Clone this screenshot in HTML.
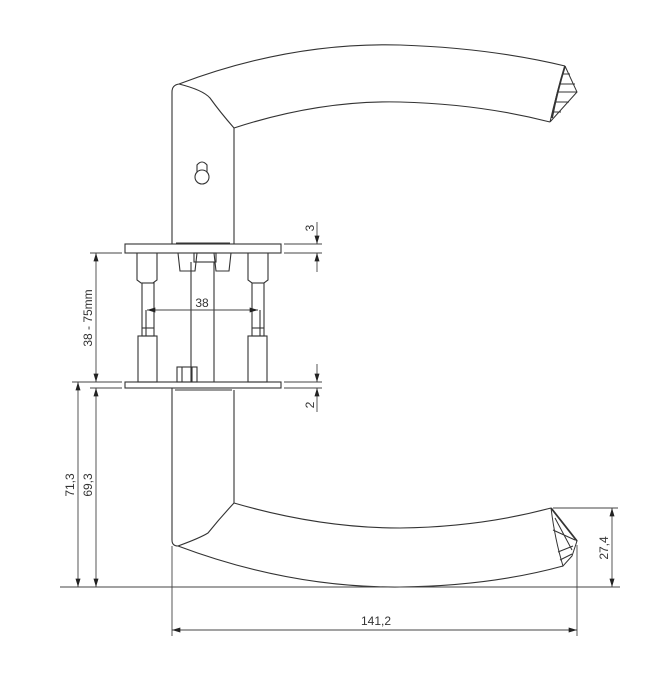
<!DOCTYPE html>
<html><head><style>
html,body{margin:0;padding:0;background:#fff;}
svg{display:block;}
text{font-family:"Liberation Sans",sans-serif;font-size:12px;fill:#333;}
</style></head><body>
<svg width="657" height="686" viewBox="0 0 657 686" xmlns="http://www.w3.org/2000/svg">
<defs>
<marker id="a" viewBox="0 0 10 6" refX="10" refY="3" markerWidth="9" markerHeight="5" orient="auto-start-reverse" markerUnits="userSpaceOnUse"><path d="M0,0 L10,3 L0,6z" fill="#222"/></marker>
</defs>
<g fill="none" stroke="#333" stroke-width="1.1">
<!-- upper handle -->
<path d="M172,244 L172,92 Q172,85 179,84 Q290,42 400,45 Q490,48 565,66"/>
<path d="M179,84 Q203,90 210,98 Q220,112 234,128 Q320,100 400,102 Q480,104 550,122"/>
<line x1="234" y1="128" x2="234" y2="244"/>
<path d="M565,66 L577,92 L550,122 M565,66 Q556,95 550,122 M563,74 L570,74 M560,84 L575,84 M557,92 L577,92 M555,102 L569,102 M552,112 L561,112" stroke-width="1"/>
<path d="M565,66 Q557,92 552,118" stroke-width="1.8"/>
<!-- keyhole -->
<circle cx="202" cy="177" r="7"/>
<path d="M197,172 L197,165 Q202,159 207,165 L207,172"/>
<!-- top plate -->
<rect x="125" y="244" width="156" height="9"/>
<line x1="176" y1="243" x2="230" y2="243"/>
<!-- posts -->
<path d="M137,253 L137,280 L141,283 L153,283 L157,280 L157,253"/>
<rect x="142" y="283" width="12" height="53"/>
<line x1="146" y1="310" x2="146" y2="336"/><line x1="142" y1="328" x2="154" y2="328"/>
<rect x="138" y="336" width="19" height="46"/>
<path d="M248,253 L248,280 L252,283 L264,283 L268,280 L268,253"/>
<rect x="252" y="283" width="12" height="53"/>
<line x1="260" y1="310" x2="260" y2="336"/><line x1="252" y1="328" x2="264" y2="328"/>
<rect x="248" y="336" width="19" height="46"/>
<!-- spindle top parts -->
<path d="M178,253 L180,271 L195,271 L197,253"/>
<path d="M214,253 L216,271 L229,271 L231,253"/>
<rect x="194" y="253" width="22" height="9"/>
<line x1="191" y1="262" x2="191" y2="382"/>
<line x1="214" y1="262" x2="214" y2="382"/>
<rect x="177" y="367" width="20" height="15"/>
<line x1="182" y1="367" x2="182" y2="382"/><line x1="192" y1="367" x2="192" y2="382"/>
<!-- bottom plate -->
<rect x="125" y="382" width="156" height="6"/>
<!-- lower handle -->
<path d="M172,388 L172,540 Q172,546 178,546 Q200,538 208,533 Q220,518 234,503 Q320,528 400,528 Q480,527 551,508"/>
<line x1="234" y1="390" x2="234" y2="503"/>
<line x1="175" y1="390" x2="232" y2="390"/>
<path d="M178,546 Q290,588 400,587 Q490,586 563,566"/>
<path d="M551,508 L577,541 L572,556 L563,566 Q555,540 551,508 M555,518 L572,550 M553,530 L575,540 M558,552 L573,546 M560,560 L572,554" stroke-width="1"/>
<path d="M551,508 L577,541" stroke-width="1.8"/>
</g>
<g fill="none" stroke="#444" stroke-width="0.9">
<line x1="60" y1="587" x2="620" y2="587"/>
<line x1="172" y1="546" x2="172" y2="636"/>
<line x1="577" y1="545" x2="577" y2="636"/>
<line x1="172" y1="630" x2="577" y2="630" marker-start="url(#a)" marker-end="url(#a)"/>
<line x1="553" y1="508" x2="618" y2="508"/>
<line x1="612" y1="508" x2="612" y2="587" marker-start="url(#a)" marker-end="url(#a)"/>
<line x1="90" y1="253" x2="122" y2="253"/>
<line x1="90" y1="382" x2="122" y2="382"/>
<line x1="72" y1="382" x2="92" y2="382"/>
<line x1="90" y1="388" x2="122" y2="388"/>
<line x1="96" y1="253" x2="96" y2="382" marker-start="url(#a)" marker-end="url(#a)"/>
<line x1="78" y1="382" x2="78" y2="587" marker-start="url(#a)" marker-end="url(#a)"/>
<line x1="96" y1="388" x2="96" y2="587" marker-start="url(#a)" marker-end="url(#a)"/>
<line x1="147" y1="310" x2="258" y2="310" marker-start="url(#a)" marker-end="url(#a)"/>
<line x1="284" y1="244" x2="322" y2="244"/>
<line x1="284" y1="253" x2="322" y2="253"/>
<line x1="317" y1="222" x2="317" y2="244" marker-end="url(#a)"/>
<line x1="317" y1="272" x2="317" y2="253" marker-end="url(#a)"/>
<line x1="284" y1="382" x2="322" y2="382"/>
<line x1="284" y1="388" x2="322" y2="388"/>
<line x1="317" y1="364" x2="317" y2="382" marker-end="url(#a)"/>
<line x1="317" y1="412" x2="317" y2="388" marker-end="url(#a)"/>
</g>
<text x="376" y="625" text-anchor="middle">141,2</text>
<text x="202" y="307" text-anchor="middle">38</text>
<text transform="translate(608,548) rotate(-90)" text-anchor="middle">27,4</text>
<text transform="translate(92,318) rotate(-90)" text-anchor="middle">38 - 75mm</text>
<text transform="translate(74,485) rotate(-90)" text-anchor="middle">71,3</text>
<text transform="translate(92,485) rotate(-90)" text-anchor="middle">69,3</text>
<text transform="translate(314,228) rotate(-90)" text-anchor="middle">3</text>
<text transform="translate(314,405) rotate(-90)" text-anchor="middle">2</text>
</svg>
</body></html>
